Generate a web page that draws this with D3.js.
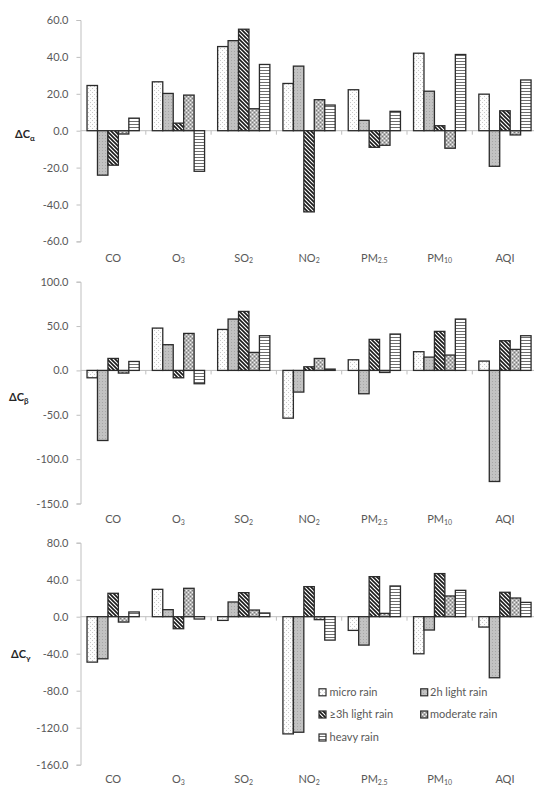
<!DOCTYPE html>
<html><head><meta charset="utf-8">
<script src="https://cdn.jsdelivr.net/npm/d3@7/dist/d3.min.js"></script>
<style>
html,body{margin:0;padding:0;background:#fff;}
svg{display:block;font-family:Lato,"Open Sans",sans-serif;}
</style></head>
<body>
<svg id="chart" width="534" height="787"></svg>
<script>
// ---- data ----
const categories = ["CO","O3","SO2","NO2","PM2.5","PM10","AQI"];
const categoryMain = ["CO","O","SO","NO","PM","PM","AQI"];
const categorySub  = ["","3","2","2","2.5","10",""];
const seriesNames = ["micro rain","2h light rain","\u22653h light rain","moderate rain","heavy rain"];

// ΔCα  (rows: series, cols: categories)
const alphaMicro    = [24.5, 26.5, 45.6, 25.6, 22.2, 42.0, 19.8];
const alphaLight2h  = [-24.1, 20.2, 48.8, 35.0, 5.6, 21.4, -19.3];
const alphaLight3h  = [-18.7, 4.1, 55.0, -44.0, -9.0, 2.7, 10.8];
const alphaModerate = [-1.8, 19.3, 11.9, 16.8, -7.9, -9.5, -2.3];
const alphaHeavy    = [6.8, -22.0, 35.9, 13.9, 10.5, 41.3, 27.5];
const alphaTicks = [-60, -40, -20, 0, 20, 40, 60];

// ΔCβ
const betaMicro    = [-8.3, 47.7, 46.2, -53.8, 12.0, 21.1, 10.5];
const betaLight2h  = [-79.0, 29.0, 57.9, -24.4, -26.3, 15.0, -125.2];
const betaLight3h  = [13.5, -8.3, 66.5, 4.1, 35.0, 44.0, 33.5];
const betaModerate = [-3.0, 41.7, 20.3, 13.5, -2.3, 17.3, 23.7];
const betaHeavy    = [10.1, -15.0, 39.1, 1.5, 41.0, 57.9, 39.1];
const betaTicks = [-150, -100, -50, 0, 50, 100];

// ΔCγ
const gammaMicro    = [-49.1, 29.6, -4.0, -126.7, -14.8, -40.1, -11.2];
const gammaLight2h  = [-45.5, 7.6, 15.9, -124.9, -30.7, -14.4, -66.0];
const gammaLight3h  = [25.3, -13.0, 26.0, 32.5, 43.3, 46.6, 26.4];
const gammaModerate = [-5.8, 30.7, 7.2, -3.2, 3.6, 22.4, 20.2];
const gammaHeavy    = [5.1, -2.5, 4.0, -25.3, 33.2, 28.5, 15.5];
const gammaTicks = [-160, -120, -80, -40, 0, 40, 80];

// ---- build ----
const svg = d3.select("#chart");
const textColor = "#595959";
const axisColor = "#bfbfbf";
const barStroke = "#2b2b2b";
const fmt = d => d3.format(".1f")(d).replace("\u2212","-");

// patterns
const defs = svg.append("defs");
const patIds = ["p-micro","p-2h","p-3h","p-mod","p-heavy"];
(function(){
  let p = defs.append("pattern").attr("id","p-micro").attr("patternUnits","userSpaceOnUse").attr("width",4).attr("height",4);
  p.append("rect").attr("width",4).attr("height",4).attr("fill","#fdfdfd");
  p.append("rect").attr("x",0).attr("y",0).attr("width",1).attr("height",1).attr("fill","#c8c8c8");
  p.append("rect").attr("x",2).attr("y",2).attr("width",1).attr("height",1).attr("fill","#c8c8c8");

  p = defs.append("pattern").attr("id","p-2h").attr("patternUnits","userSpaceOnUse").attr("width",3).attr("height",3);
  p.append("rect").attr("width",3).attr("height",3).attr("fill","#c2c2c2");
  p.append("rect").attr("x",0).attr("y",0).attr("width",1).attr("height",1).attr("fill","#a6a6a6");

  p = defs.append("pattern").attr("id","p-3h").attr("patternUnits","userSpaceOnUse").attr("width",4).attr("height",4);
  p.append("rect").attr("width",4).attr("height",4).attr("fill","#ffffff");
  p.append("path").attr("d","M-1,-1L5,5M-1,3L1,5M3,-1L5,1").attr("stroke","#1a1a1a").attr("stroke-width",1.6);

  p = defs.append("pattern").attr("id","p-mod").attr("patternUnits","userSpaceOnUse").attr("width",4).attr("height",4);
  p.append("rect").attr("width",4).attr("height",4).attr("fill","#b4b4b4");
  p.append("rect").attr("x",0).attr("y",0).attr("width",1).attr("height",1).attr("fill","#f2f2f2");
  p.append("rect").attr("x",2).attr("y",2).attr("width",1).attr("height",1).attr("fill","#f2f2f2");
  p.append("rect").attr("x",2).attr("y",0).attr("width",1).attr("height",1).attr("fill","#7a7a7a");
  p.append("rect").attr("x",0).attr("y",2).attr("width",1).attr("height",1).attr("fill","#7a7a7a");

  p = defs.append("pattern").attr("id","p-heavy").attr("patternUnits","userSpaceOnUse").attr("width",4).attr("height",3);
  p.append("rect").attr("width",4).attr("height",3).attr("fill","#ffffff");
  p.append("rect").attr("x",0).attr("y",1).attr("width",4).attr("height",1).attr("fill","#6e6e6e");
})();

const axisX0 = 80.5;
const step = 65.3;
const x0 = d3.scaleBand().domain(categories).range([axisX0, axisX0 + step*categories.length]).padding(0);
const x1 = d3.scaleBand().domain(seriesNames).range([step*0.1, step*0.9]).padding(0);

const panels = [
  {rows:[alphaMicro,alphaLight2h,alphaLight3h,alphaModerate,alphaHeavy], ticks:alphaTicks,
   top:20, bottom:241.4, labelY:258, ySym:"\u0394C", ySub:"\u03b1", yLabX:15, yLabY:134},
  {rows:[betaMicro,betaLight2h,betaLight3h,betaModerate,betaHeavy], ticks:betaTicks,
   top:281.7, bottom:503.5, labelY:519.5, ySym:"\u0394C", ySub:"\u03b2", yLabX:9, yLabY:397},
  {rows:[gammaMicro,gammaLight2h,gammaLight3h,gammaModerate,gammaHeavy], ticks:gammaTicks,
   top:542.7, bottom:764.7, labelY:779.5, ySym:"\u0394C", ySub:"\u03b3", yLabX:11, yLabY:654}
];

panels.forEach(pn => {
  const g = svg.append("g");
  const y = d3.scaleLinear().domain(d3.extent(pn.ticks)).range([pn.bottom, pn.top]);

  // y axis
  const yAxis = d3.axisLeft(y).tickValues(pn.ticks).tickSize(4).tickPadding(8).tickFormat(fmt);
  const ya = g.append("g").attr("transform",`translate(${axisX0},0)`).call(yAxis);
  ya.select(".domain").attr("stroke",axisColor);
  ya.selectAll(".tick line").attr("stroke",axisColor);
  ya.selectAll(".tick text").attr("fill",textColor).attr("font-size",11).attr("font-family","Lato,sans-serif");

  // zero line with category ticks
  const zx = g.append("g").attr("transform",`translate(0,${y(0)})`)
    .call(d3.axisBottom(x0).tickSize(0).tickFormat(""));
  zx.select(".domain").attr("stroke",axisColor).attr("d",`M${axisX0},0H${axisX0+step*categories.length}`);
  zx.selectAll(".tick").remove();
  g.selectAll(".ctick").data(categories.slice(1)).join("line")
    .attr("x1",d=>x0(d)).attr("x2",d=>x0(d)).attr("y1",y(0)).attr("y2",y(0)+4)
    .attr("stroke",axisColor);

  // bars
  pn.rows.forEach((row, si) => {
    g.selectAll(null).data(row.map((v,ci)=>({v,c:categories[ci]}))).join("rect")
      .attr("x", d => x0(d.c) + x1(seriesNames[si]))
      .attr("width", x1.bandwidth())
      .attr("y", d => y(Math.max(0,d.v)))
      .attr("height", d => Math.abs(y(d.v)-y(0)))
      .attr("fill", `url(#${patIds[si]})`)
      .attr("stroke", barStroke).attr("stroke-width",1.3);
  });

  // category labels
  const lab = g.selectAll(".clab").data(categories).join("text")
    .attr("x", d => x0(d) + x0.bandwidth()/2)
    .attr("y", pn.labelY).attr("dy","0.35em")
    .attr("text-anchor","middle").attr("fill",textColor).attr("font-size",11);
  lab.append("tspan").text((d,i)=>categoryMain[i]);
  lab.append("tspan").attr("font-size",7).attr("dy","1.5").text((d,i)=>categorySub[i]);

  // y label
  const yl = g.append("text").attr("x",pn.yLabX).attr("y",pn.yLabY).attr("dy","0.35em")
    .attr("font-weight","bold").attr("font-size",11).attr("fill","#262626");
  yl.append("tspan").text(pn.ySym);
  yl.append("tspan").attr("font-size",8).attr("dy","3").text(pn.ySub);
});

// legend
const legendPos = [
  {bx:319, tx:329.5, y:692.3},
  {bx:420.7, tx:430, y:692.3},
  {bx:319, tx:329.5, y:714.5},
  {bx:420.7, tx:430, y:714.5},
  {bx:319, tx:329.5, y:737.5}
];
const lg = svg.append("g");
seriesNames.forEach((s,i)=>{
  const p = legendPos[i];
  lg.append("rect").attr("x",p.bx).attr("y",p.y-3.5).attr("width",7).attr("height",7)
    .attr("fill",`url(#${patIds[i]})`).attr("stroke",barStroke).attr("stroke-width",1.2);
  lg.append("text").attr("x",p.tx).attr("y",p.y).attr("dy","0.35em")
    .attr("font-size",11).attr("fill",textColor).text(s);
});
</script>
</body></html>
